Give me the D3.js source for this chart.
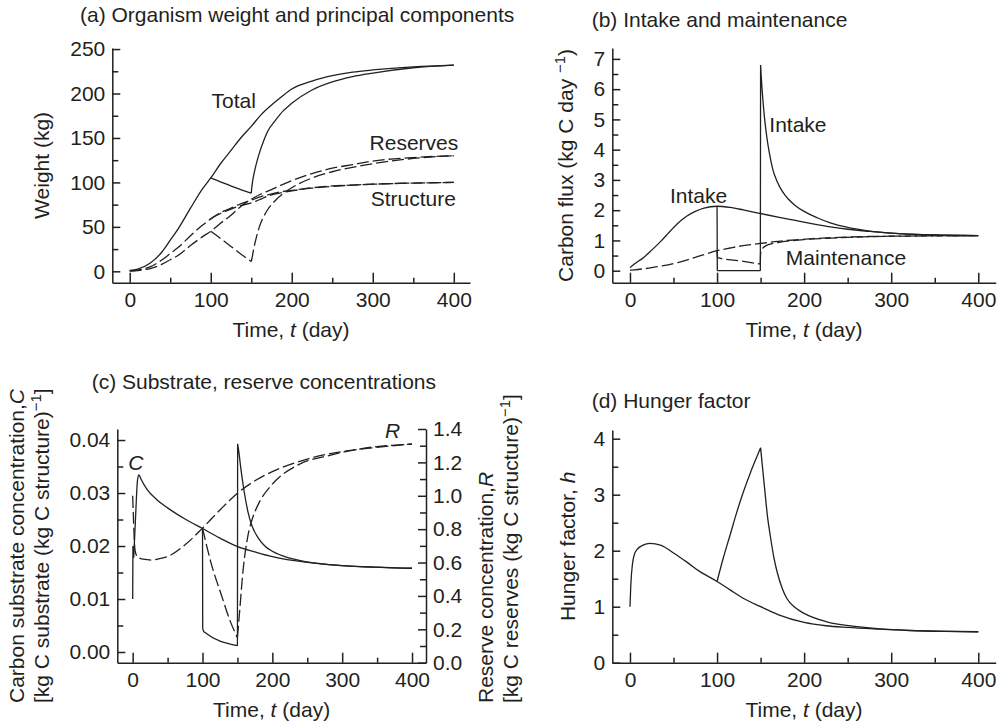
<!DOCTYPE html>
<html>
<head>
<meta charset="utf-8">
<script src="https://cdn.jsdelivr.net/npm/d3@7"></script>
<style>
  body { margin: 0; background: #fff; }
  svg text { font-family: "Liberation Sans", Arial, Helvetica, sans-serif; font-size: 21px; fill: #231f20; }
  .curve { fill: none; stroke: #231f20; stroke-width: 1.3; }
  .dash { stroke-dasharray: 12, 4; }
  .axis path, .axis line { stroke: #231f20; stroke-width: 1.5; }
</style>
</head>
<body>
<svg id="chart" width="1006" height="726"></svg>
<script>

// ---- ticks shared by the four panels
const timeTicks = [0, 100, 200, 300, 400];
const timeMinor = [50, 150, 250, 350];

// ---- (a) organism weight (kg)
const aTicks = [0, 50, 100, 150, 200, 250];
const aMinor = [25, 75, 125, 175, 225];
const aTime = [0, 10, 25, 40, 50, 60, 75, 90, 100, 112, 125, 137, 150, 162, 175, 187, 200, 225, 250, 275, 300, 350, 400];
const aTotal = [1, 2.5, 9, 22, 35, 48, 71, 93, 105, 121, 136, 150, 163, 176, 187, 196, 205, 214, 220, 224, 226.5, 230, 232];
const aStructure = [0.5, 1.5, 5, 13, 20, 27, 40, 52, 59, 66, 71, 76, 80, 84, 87, 89.5, 91, 94, 96, 97, 98, 99.3, 100];
const aReserves = [0.3, 0.8, 3, 8, 13, 18, 29, 39, 45, 54, 63, 73, 81, 87, 92, 97, 102, 110, 116, 120, 124, 128, 130];
// starvation between day 100 and 150
const aStarveTime = [100, 112, 125, 137, 150, 151, 153, 156, 160, 165, 170, 180, 190, 200, 225, 250, 275, 300, 350, 400];
const aTotalStarved = [105, 100.5, 96, 92, 88, 97, 108, 120, 133, 146, 157, 170, 181, 189, 204, 213, 219, 223, 229, 232];
const aStructureStarved = [59, 65, 70, 74, 77, 77.3, 78, 79, 80.5, 82.5, 84.5, 87, 89, 90.5, 93.5, 95.5, 97, 98, 99.3, 100];
const aReservesStarved = [45, 37, 28, 19.5, 11, 15, 25, 37, 50, 61, 69, 80, 88, 94, 105, 112, 117, 121, 127, 130];

// ---- (b) carbon flux (kg C / day)
const bTicks = [0, 1, 2, 3, 4, 5, 6, 7];
const bMinor = [0.5, 1.5, 2.5, 3.5, 4.5, 5.5, 6.5];
const bTime = [0, 5, 15, 25, 35, 45, 55, 65, 75, 85, 100, 115, 130, 150, 170, 190, 210, 230, 250, 275, 300, 350, 400];
const bIntake = [0.1, 0.22, 0.42, 0.68, 0.96, 1.27, 1.57, 1.8, 1.96, 2.07, 2.13, 2.09, 2.01, 1.89, 1.77, 1.66, 1.55, 1.45, 1.37, 1.3, 1.24, 1.18, 1.16];
const bMaintenance = [0.02, 0.03, 0.06, 0.1, 0.15, 0.2, 0.27, 0.35, 0.44, 0.53, 0.66, 0.75, 0.83, 0.9, 0.97, 1.02, 1.06, 1.09, 1.11, 1.13, 1.14, 1.15, 1.16];
const bIntakeStarvedTime = [100, 100.3, 149.7, 150, 151, 152.5, 154.5, 157, 160, 164, 169, 175, 182, 190, 200, 215, 230, 250, 275, 300, 350, 400];
const bIntakeStarved = [2.13, 0, 0, 6.8, 6.3, 5.7, 5.05, 4.45, 3.9, 3.35, 2.95, 2.62, 2.36, 2.15, 1.96, 1.75, 1.58, 1.43, 1.31, 1.24, 1.18, 1.16];
const bMaintStarvedTime = [100, 100.3, 125, 149.7, 150, 151, 153, 156, 160, 170, 185, 200, 225, 250, 300, 400];
const bMaintStarved = [0.66, 0.43, 0.33, 0.22, 0.55, 0.68, 0.76, 0.82, 0.87, 0.93, 0.99, 1.03, 1.07, 1.1, 1.14, 1.16];

// ---- (c) substrate C (left axis) and reserve R (right axis) concentrations
const cLeftTicks = [0, 0.01, 0.02, 0.03, 0.04];
const cLeftMinor = [0.005, 0.015, 0.025, 0.035];
const cRightTicks = [0, 0.2, 0.4, 0.6, 0.8, 1.0, 1.2, 1.4];
const cRightMinor = [0.1, 0.3, 0.5, 0.7, 0.9, 1.1, 1.3];
const cCTime = [0, 0.4, 1.5, 4, 7, 9, 12, 20, 35, 50, 75, 100, 125, 150, 175, 200, 250, 300, 350, 400];
const cC = [0.010, 0.020, 0.0178, 0.025, 0.0325, 0.0334, 0.0326, 0.0308, 0.0287, 0.0272, 0.0251, 0.0233, 0.0215, 0.0199, 0.0189, 0.0180, 0.0169, 0.0163, 0.0160, 0.0158];
const cRTime = [0, 1, 2.5, 4, 8, 15, 27, 40, 50, 75, 100, 125, 150, 175, 200, 250, 300, 350, 400];
const cR = [1.0, 0.88, 0.72, 0.66, 0.63, 0.62, 0.615, 0.625, 0.636, 0.706, 0.806, 0.915, 1.015, 1.09, 1.145, 1.22, 1.265, 1.29, 1.31];
const cCStarvedTime = [100, 100.3, 102, 150, 150.3, 152, 155, 160, 165, 170, 180, 190, 200, 225, 250, 300, 400];
const cCStarved = [0.0233, 0.0045, 0.0038, 0.0012, 0.0393, 0.0378, 0.0345, 0.0300, 0.0265, 0.0241, 0.0215, 0.0199, 0.0190, 0.0177, 0.0170, 0.0163, 0.0158];
const cRStarvedTime = [100, 113, 127, 139, 150, 153, 158, 165, 172, 180, 199, 237, 285, 332, 400];
const cRStarved = [0.806, 0.586, 0.406, 0.256, 0.15, 0.3, 0.55, 0.76, 0.87, 0.95, 1.065, 1.185, 1.245, 1.285, 1.31];

// ---- (d) hunger factor h
const dTicks = [0, 1, 2, 3, 4];
const dMinor = [0.5, 1.5, 2.5, 3.5];
const dTime = [0, 1, 3, 5, 8, 15, 23, 35, 50, 65, 80, 100, 115, 130, 150, 170, 200, 225, 250, 285, 320, 360, 400];
const dHunger = [1.0, 1.4, 1.78, 1.93, 2.02, 2.1, 2.13, 2.1, 1.96, 1.8, 1.63, 1.45, 1.3, 1.15, 1.0, 0.86, 0.72, 0.66, 0.63, 0.6, 0.575, 0.56, 0.553];
const dStarvedTime = [100, 107, 115, 122.5, 130, 138, 145, 150, 152, 155, 158, 161, 165, 169, 175, 180, 190, 200, 226, 264, 302, 350, 400];
const dHungerStarved = [1.45, 1.86, 2.28, 2.68, 3.04, 3.38, 3.65, 3.84, 3.52, 3.05, 2.6, 2.28, 1.9, 1.62, 1.32, 1.15, 0.98, 0.88, 0.73, 0.64, 0.59, 0.565, 0.553];


const svg = d3.select("#chart");

function timeAxis(x, y0) {
  svg.append("g").attr("class", "axis")
    .attr("transform", "translate(0," + y0 + ")")
    .call(d3.axisBottom(x).tickValues(timeTicks).tickSizeInner(-10).tickSizeOuter(0).tickPadding(9));
  svg.append("g").attr("class", "axis")
    .attr("transform", "translate(0," + y0 + ")")
    .call(d3.axisBottom(x).tickValues(timeMinor).tickSizeInner(-5).tickSizeOuter(0).tickFormat(""))
    .select(".domain").remove();
}

function valueAxis(y, x0, ticks, minor, fmt, right) {
  const make = right ? d3.axisRight : d3.axisLeft;
  svg.append("g").attr("class", "axis")
    .attr("transform", "translate(" + x0 + ",0)")
    .call(make(y).tickValues(ticks).tickFormat(fmt).tickSizeInner(-8).tickSizeOuter(0).tickPadding(7));
  svg.append("g").attr("class", "axis")
    .attr("transform", "translate(" + x0 + ",0)")
    .call(make(y).tickValues(minor).tickFormat("").tickSizeInner(-6).tickSizeOuter(0))
    .select(".domain").remove();
}

// breaks = times where the curve has a corner (jump, peak) : a new smooth piece starts there
function curve(x, y, time, values, dashed, breaks) {
  const line = d3.line()
    .x(d => x(d[0]))
    .y(d => y(d[1]))
    .curve(d3.curveMonotoneX);
  const pieces = [[]];
  d3.zip(time, values).forEach(p => {
    pieces[pieces.length - 1].push(p);
    if (breaks && breaks.includes(p[0])) pieces.push([p]);
  });
  svg.append("path")
    .attr("class", dashed ? "curve dash" : "curve")
    .attr("d", pieces.filter(s => s.length > 1).map(s => line(s)).join(""));
}

function label(x, y, parts, anchor) {
  const t = svg.append("text").attr("x", x).attr("y", y)
    .attr("text-anchor", anchor || "start");
  parts.forEach(p => {
    const s = t.append("tspan").text(p.text);
    if (p.italic) s.attr("font-style", "italic");
    if (p.sup) s.attr("dy", -8).style("font-size", "15px");
    if (p.unsup) s.attr("dy", 8);
  });
  return t;
}

function sideLabel(x, y, parts, anchor) {
  label(0, 0, parts, anchor || "middle")
    .attr("transform", "translate(" + x + "," + y + ") rotate(-90)");
}

const timeText = [{text: "Time, "}, {text: "t", italic: true}, {text: " (day)"}];

// ================= (a)
const xa = d3.scaleLinear().domain([-21.5, 420]).range([112.3, 470]);
const ya = d3.scaleLinear().domain([-12.8, 251.2]).range([282.7, 48]);
timeAxis(xa, 282.7);
valueAxis(ya, 112.3, aTicks, aMinor, d3.format("d"));
curve(xa, ya, aTime, aTotal, false);
curve(xa, ya, aTime, aStructure, true);
curve(xa, ya, aTime, aReserves, true);
curve(xa, ya, aStarveTime, aTotalStarved, false, [150]);
curve(xa, ya, aStarveTime, aStructureStarved, true);
curve(xa, ya, aStarveTime, aReservesStarved, true, [150]);
label(80, 22, [{text: "(a) Organism weight and principal components"}]);
label(xa(101), ya(184), [{text: "Total"}]);
label(xa(296), ya(136.4), [{text: "Reserves"}]);
label(xa(297.5), ya(73.8), [{text: "Structure"}]);
label(291, 337, timeText, "middle");
sideLabel(49, 165.4, [{text: "Weight (kg)"}]);

// ================= (b)
const xb = d3.scaleLinear().domain([-20.3, 420]).range([612.3, 995.7]);
const yb = d3.scaleLinear().domain([-0.397, 7.36]).range([282.7, 48]);
timeAxis(xb, 282.7);
valueAxis(yb, 612.3, bTicks, bMinor, d3.format("d"));
curve(xb, yb, bTime, bIntake, false);
curve(xb, yb, bTime, bMaintenance, true);
curve(xb, yb, bIntakeStarvedTime, bIntakeStarved, false, [100.3, 149.7, 150]);
curve(xb, yb, bMaintStarvedTime, bMaintStarved, true, [149.7]);
label(591.7, 27, [{text: "(b) Intake and maintenance"}]);
label(xb(160), yb(4.6), [{text: "Intake"}]);
label(xb(45.9), yb(2.25), [{text: "Intake"}]);
label(xb(179), yb(0.19), [{text: "Maintenance"}]);
label(804, 337, timeText, "middle");
sideLabel(573, 165.4, [{text: "Carbon flux (kg C day "}, {text: "\u22121", sup: true}, {text: ")", unsup: true}]);

// ================= (c)
const xc = d3.scaleLinear().domain([-22, 420]).range([117.3, 426]);
const ycL = d3.scaleLinear().domain([-0.00202, 0.04208]).range([662.7, 429]);
const ycR = d3.scaleLinear().domain([0, 1.4]).range([662.7, 429]);
timeAxis(xc, 662.7);
valueAxis(ycL, 117.3, cLeftTicks, cLeftMinor, d3.format(".2f"));
valueAxis(ycR, 426, cRightTicks, cRightMinor, d3.format(".1f"), true);
curve(xc, ycL, cCTime, cC, false, [0.4, 1.5]);
curve(xc, ycR, cRTime, cR, true);
curve(xc, ycL, cCStarvedTime, cCStarved, false, [150, 150.3]);
curve(xc, ycR, cRStarvedTime, cRStarved, true, [150]);
label(91.7, 389, [{text: "(c) Substrate, reserve concentrations"}]);
label(xc(-6.3), ycL(0.0343), [{text: "C", italic: true}]);
label(xc(361.4), ycR(1.345), [{text: "R", italic: true}]);
label(271.6, 717, timeText, "middle");
sideLabel(24, 703, [{text: "Carbon substrate concentration,"}, {text: "C", italic: true}], "start");
sideLabel(49, 703, [{text: "[kg C substrate (kg C structure)"}, {text: "\u22121", sup: true}, {text: "]", unsup: true}], "start");
sideLabel(493, 703, [{text: "Reserve concentration,"}, {text: "R", italic: true}], "start");
sideLabel(517.5, 703, [{text: "[kg C reserves (kg C structure)"}, {text: "\u22121", sup: true}, {text: "]", unsup: true}], "start");

// ================= (d)
const xd = d3.scaleLinear().domain([-20.3, 420]).range([612.3, 995.7]);
const yd = d3.scaleLinear().domain([0, 4.155]).range([662.7, 430]);
timeAxis(xd, 662.7);
valueAxis(yd, 612.3, dTicks, dMinor, d3.format("d"));
curve(xd, yd, dTime, dHunger, false);
curve(xd, yd, dStarvedTime, dHungerStarved, false, [150]);
label(591.7, 408, [{text: "(d) Hunger factor"}]);
label(804, 717, timeText, "middle");
sideLabel(575, 546.4, [{text: "Hunger factor, "}, {text: "h", italic: true}]);

</script>
</body>
</html>
